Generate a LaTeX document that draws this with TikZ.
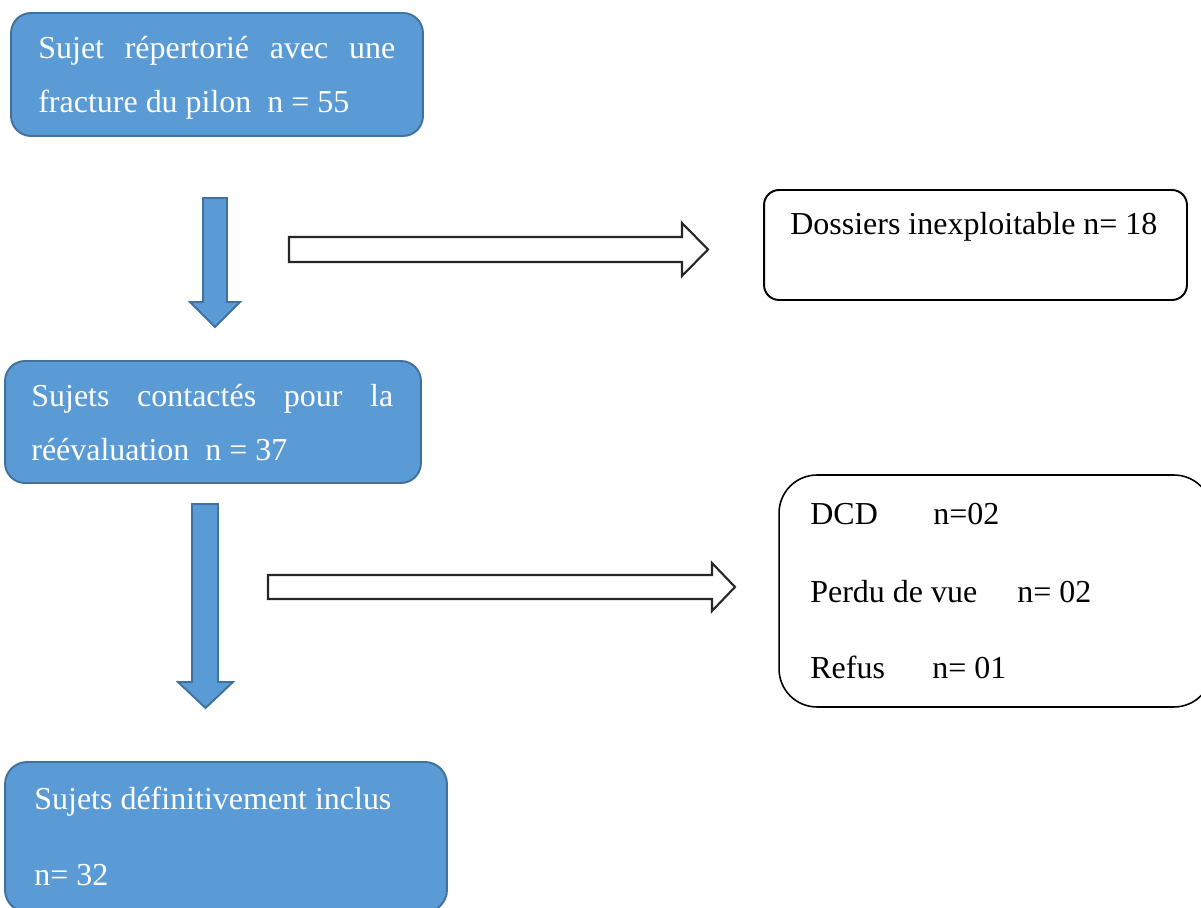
\documentclass[tikz,border=0pt]{standalone}
\usepackage{fontspec}
\setmainfont{Liberation Serif}
\usetikzlibrary{positioning}

\definecolor{boxblue}{HTML}{5B9BD5}
\definecolor{boxedge}{HTML}{41719C}
\definecolor{arrowedge}{HTML}{262626}
\newcommand{\flowfont}{\fontsize{18.2}{22}\selectfont}

\begin{document}
\begin{tikzpicture}
[
	             x = 0.02cm,
	             y = -0.02cm,
	 bluebox/.style = { draw=boxedge, fill=boxblue, line width=1.1pt, rounded corners=0.4cm, inner sep=0pt },
	whitebox/.style = { draw=black, fill=white, line width=1.1pt, rounded corners=0.3cm, inner sep=0pt },
	bluetext/.style = { anchor=base west, inner sep=0pt, text=white, font=\flowfont },
	darktext/.style = { bluetext, text=black },
	downarrow/.style = { draw=boxedge, fill=boxblue, line width=1.1pt },
	sidearrow/.style = { draw=arrowedge, fill=white, line width=1.2pt }
]
	\useasboundingbox (0,0) rectangle (1201,908);
	\clip (0,0) rectangle (1201,908);

	% boxes
	\node (pilon)     at (217,74.5)  [bluebox, minimum width=8.24cm, minimum height=2.46cm] {};
	\node (contactes) at (213,422)   [bluebox, minimum width=8.32cm, minimum height=2.44cm] {};
	\node (inclus)    at (226,837)   [bluebox, minimum width=8.84cm, minimum height=3cm, rounded corners=0.44cm] {};
	\node (dossiers)  at (975.5,245) [whitebox, minimum width=8.46cm, minimum height=2.2cm] {};
	\node (perdus)    at (995.5,591) [whitebox, minimum width=8.66cm, minimum height=4.64cm, rounded corners=0.76cm, line width=0.9pt] {};

	% texts
	\node (pilon-a)     at (38,59)   [bluetext] {\makebox[7.14cm][s]{Sujet répertorié avec une}};
	\node (pilon-b)     at (38,113)  [bluetext] {fracture du pilon~ n = 55};
	\node (contactes-a) at (31,407)  [bluetext] {\makebox[7.24cm][s]{Sujets contactés pour la}};
	\node (contactes-b) at (31,461)  [bluetext] {réévaluation~ n = 37};
	\node (inclus-a)    at (34,809)  [bluetext] {Sujets définitivement inclus};
	\node (inclus-b)    at (34,886)  [bluetext] {n= 32};
	\node (dossiers-a)  at (790,235) [darktext] {Dossiers inexploitable n= 18};
	\node (dcd)         at (810,525) [darktext] {DCD};
	\node (dcd-n)       at (933,525) [darktext] {n=02};
	\node (vue)         at (810,603) [darktext] {Perdu de vue};
	\node (vue-n)       at (1017,603) [darktext] {n= 02};
	\node (refus)       at (810,679) [darktext] {Refus};
	\node (refus-n)     at (932,679) [darktext] {n= 01};

	% block arrows
	\draw [downarrow] (203,198) -- (227,198) -- (227,302) -- (240,302) -- (215,327) -- (190,302) -- (203,302) -- cycle;
	\draw [downarrow] (192,504) -- (218,504) -- (218,682) -- (233,682) -- (205.5,708) -- (178,682) -- (192,682) -- cycle;
	\draw [sidearrow] (289,237) -- (682,237) -- (682,223) -- (708,249.5) -- (682,276) -- (682,262) -- (289,262) -- cycle;
	\draw [sidearrow] (268,575) -- (712,575) -- (712,563) -- (735,587) -- (712,611) -- (712,599) -- (268,599) -- cycle;

\end{tikzpicture}
\end{document}
